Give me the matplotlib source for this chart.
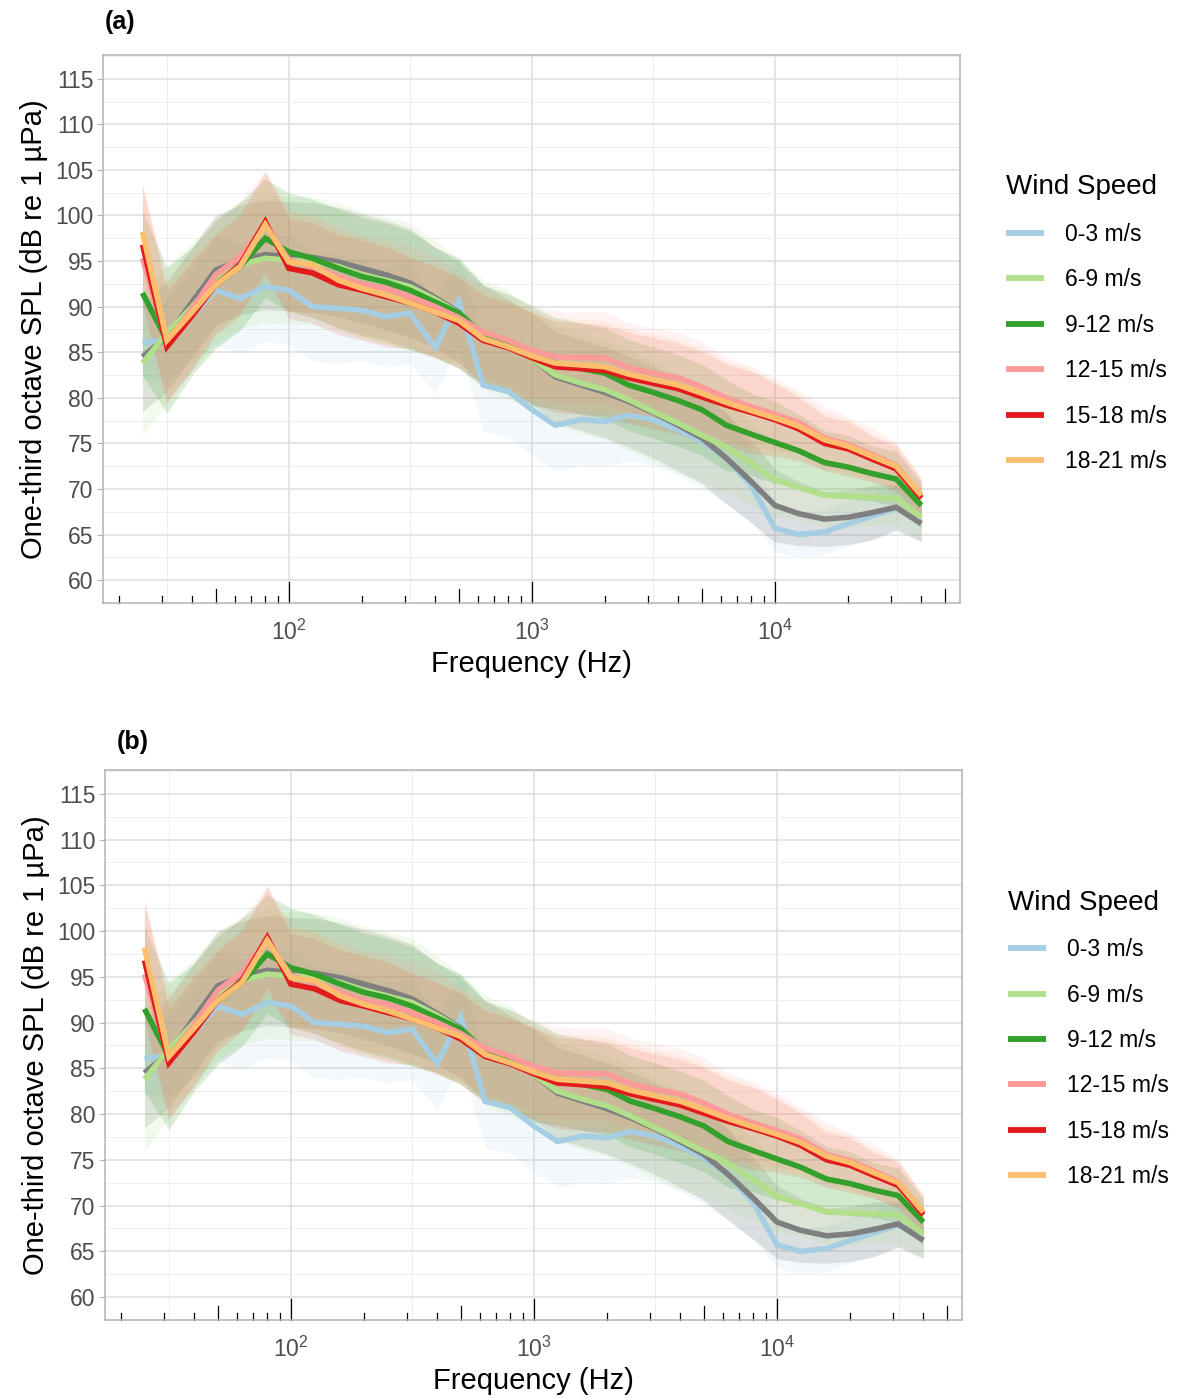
#===============================================================
#  one-third octave SPL spectra by wind speed class
#  two panels (a) and (b), ribbon = spread around the median line
#...............................................................

import numpy as np
import matplotlib
matplotlib.use("Agg")
import matplotlib.pyplot as plt
from matplotlib.transforms import blended_transform_factory
from matplotlib.ticker import FixedLocator, LogFormatterMathtext

plt.rcParams['font.family'] = ['Liberation Sans', 'DejaVu Sans']
plt.rcParams['mathtext.fontset'] = 'custom'
plt.rcParams['mathtext.rm'] = 'Liberation Sans'
plt.rcParams['mathtext.it'] = 'Liberation Sans'

#...............................................................
# data
freq = [25, 31.5, 40, 50, 63, 80, 100, 125, 160, 200, 250, 315, 400, 500,
        630, 800, 1000, 1250, 1600, 2000, 2500, 3150, 4000, 5000, 6300,
        8000, 10000, 12500, 16000, 20000, 25000, 31500, 40000]

spl_0_3 = [86.1, 86.3, 89.0, 91.8, 90.9, 92.2, 91.8, 90.0, 89.8, 89.6, 88.9,
           89.3, 85.5, 90.6, 81.4, 80.7, 78.7, 77.0, 77.6, 77.4, 78.1, 77.6,
           76.5, 75.2, 73.4, 70.3, 65.7, 65.0, 65.3, 66.2, 67.0, 67.9, 66.3]
spl_3_6 = [84.5, 86.7, 90.5, 94.0, 95.1, 95.7, 95.5, 95.4, 94.9, 94.2, 93.5,
           92.6, 91.0, 89.4, 86.9, 85.8, 84.3, 82.3, 81.4, 80.6, 79.6, 78.4,
           77.0, 75.6, 73.4, 70.8, 68.2, 67.3, 66.7, 66.9, 67.4, 68.0, 66.2]
spl_6_9 = [83.8, 87.1, 90.0, 92.9, 94.6, 95.3, 95.1, 95.0, 94.4, 93.5, 92.9,
           92.2, 90.8, 89.3, 87.0, 85.8, 84.3, 82.5, 81.6, 80.9, 79.8, 78.5,
           77.2, 75.9, 74.6, 72.8, 71.0, 70.2, 69.3, 69.2, 69.1, 69.0, 66.9]
spl_9_12 = [91.5, 86.3, 89.5, 92.4, 94.4, 97.5, 96.0, 95.3, 94.2, 93.3, 92.7,
            91.8, 90.5, 89.3, 86.9, 85.9, 84.6, 83.8, 83.2, 82.7, 81.4, 80.6,
            79.7, 78.7, 77.0, 76.0, 75.1, 74.2, 72.9, 72.4, 71.7, 71.1, 68.2]
spl_12_15 = [95.3, 86.1, 89.8, 93.5, 95.5, 99.0, 95.1, 94.4, 93.3, 92.4, 92.0,
             91.1, 90.0, 88.8, 87.2, 86.3, 85.2, 84.5, 84.4, 84.4, 83.3, 82.7,
             82.2, 81.2, 80.0, 79.0, 78.2, 77.3, 75.6, 74.9, 73.8, 72.6, 69.2]
spl_15_18 = [96.8, 85.6, 89.0, 92.4, 94.6, 99.3, 94.2, 93.7, 92.4, 91.8, 91.1,
             90.4, 89.4, 88.2, 86.3, 85.5, 84.4, 83.4, 83.2, 83.0, 82.2, 81.6,
             81.0, 80.1, 79.2, 78.4, 77.6, 76.6, 75.0, 74.4, 73.3, 72.2, 69.0]
spl_18_21 = [98.2, 86.3, 89.4, 92.4, 94.4, 99.0, 94.9, 94.6, 92.9, 92.0, 91.3,
             90.4, 89.4, 88.5, 86.5, 85.6, 84.6, 83.8, 83.6, 83.4, 82.6, 82.0,
             81.4, 80.5, 79.5, 78.6, 77.8, 76.9, 75.4, 74.7, 73.6, 72.5, 69.3]

# half width of the shaded band (dB)
sd_0_3 = [4.0, 4.5, 5.0, 6.0, 6.0, 6.0, 6.0, 6.0, 6.0, 5.5, 5.5, 5.5, 5.0,
          5.0, 5.0, 5.0, 5.0, 5.0, 5.0, 5.0, 5.0, 5.0, 5.0, 5.0, 5.0, 4.0,
          2.5, 2.5, 2.5, 2.5, 2.5, 2.5, 2.0]
sd_3_6 = [6.0, 6.0, 6.0, 6.0, 6.0, 6.0, 6.0, 6.0, 6.0, 6.0, 6.0, 6.0, 5.5,
          5.5, 5.5, 5.0, 5.0, 5.0, 5.0, 5.0, 5.0, 5.0, 5.0, 5.0, 5.0, 4.5,
          4.0, 3.5, 3.0, 3.0, 3.0, 2.5, 2.0]
sd_6_9 = [8.0, 7.5, 7.0, 7.0, 7.0, 7.0, 7.0, 7.0, 7.0, 7.0, 7.0, 7.0, 6.5,
          6.0, 6.0, 6.0, 5.5, 5.5, 5.5, 5.5, 5.5, 5.5, 5.5, 5.0, 5.0, 4.5,
          4.0, 3.5, 3.5, 3.5, 3.0, 3.0, 2.5]
sd_9_12 = [9.0, 8.0, 7.0, 7.0, 7.0, 6.5, 6.5, 6.5, 6.5, 6.5, 6.5, 6.5, 6.0,
           6.0, 5.5, 5.5, 5.5, 5.0, 5.0, 5.0, 5.0, 5.0, 5.0, 5.0, 5.0, 4.5,
           4.5, 4.0, 3.5, 3.5, 3.0, 3.0, 2.5]
sd_12_15 = [7.5, 7.0, 6.5, 6.0, 6.0, 6.0, 5.5, 5.5, 5.5, 5.5, 5.5, 5.5, 5.5,
            5.0, 5.0, 5.0, 5.0, 5.0, 5.0, 5.0, 5.0, 5.0, 5.0, 5.0, 4.5, 4.5,
            4.0, 3.5, 3.5, 3.0, 3.0, 2.5, 2.0]
sd_15_18 = [6.5, 6.0, 6.0, 5.5, 5.5, 5.5, 5.5, 5.5, 5.5, 5.5, 5.5, 5.0, 5.0,
            5.0, 5.0, 5.0, 5.0, 5.0, 5.0, 5.0, 5.0, 5.0, 5.0, 5.0, 4.5, 4.5,
            4.0, 3.5, 3.0, 3.0, 2.5, 2.5, 2.0]
sd_18_21 = [5.5, 6.0, 6.0, 5.5, 5.5, 5.5, 5.5, 5.5, 5.5, 5.5, 5.5, 5.0, 5.0,
            5.0, 5.0, 5.0, 5.0, 5.0, 5.0, 5.0, 5.0, 5.0, 5.0, 5.0, 4.5, 4.5,
            4.0, 3.5, 3.0, 3.0, 2.5, 2.5, 2.0]

labels = ["0-3 m/s", None, "6-9 m/s", "9-12 m/s", "12-15 m/s",
          "15-18 m/s", "18-21 m/s"]
series = [spl_0_3, spl_3_6, spl_6_9, spl_9_12, spl_12_15, spl_15_18, spl_18_21]
spreads = [sd_0_3, sd_3_6, sd_6_9, sd_9_12, sd_12_15, sd_15_18, sd_18_21]
colors = ["#A6CEE3", "#7F7F7F", "#B2DF8A", "#33A02C", "#FB9A99",
          "#E31A1C", "#FDBF6F"]
band_alpha = [0.14, 0.20, 0.15, 0.17, 0.12, 0.11, 0.13]

#...............................................................
# one panel
def draw_panel(ax):
    f = np.array(freq)
    for y, s, c, a in zip(series, spreads, colors, band_alpha):
        y = np.array(y); s = np.array(s)
        ax.fill_between(f, y - s, y + s, color=c, alpha=a, lw=0)
    for y, c, lab in zip(series, colors, labels):
        ax.plot(f, y, color=c, lw=4.0, label=lab if lab else "_nolegend_",
                solid_capstyle="butt", solid_joinstyle="miter")

    ax.set_xscale("log")
    ax.set_xlim(17.2, 57700)
    ax.set_ylim(57.5, 117.6)
    ax.set_yticks(np.arange(60, 116, 5))
    ax.yaxis.set_minor_locator(FixedLocator(np.arange(62.5, 118, 5)))
    ax.xaxis.set_major_locator(FixedLocator([100, 1000, 10000]))
    ax.xaxis.set_major_formatter(LogFormatterMathtext())
    ax.xaxis.set_minor_locator(FixedLocator([10 ** 1.5, 10 ** 2.5,
                                             10 ** 3.5, 10 ** 4.5]))
    ax.xaxis.set_minor_formatter(plt.NullFormatter())

    ax.grid(which="major", color="#DEDEDE", lw=1.1)
    ax.grid(which="minor", color="#EBEBEB", lw=0.6)
    ax.set_axisbelow(True)
    for sp in ax.spines.values():
        sp.set_color("#B3B3B3")
        sp.set_linewidth(1.1)
    ax.tick_params(axis="y", which="major", length=4, color="#B3B3B3",
                   labelsize=16.5, labelcolor="#4D4D4D", pad=3)
    ax.tick_params(axis="x", which="major", length=0, labelsize=16.5,
                   labelcolor="#4D4D4D", pad=12)
    ax.tick_params(which="minor", length=0)

    # log ticks along the bottom, inside the panel
    tr = blended_transform_factory(ax.transData, ax.transAxes)
    for d in [10, 100, 1000, 10000]:
        for k in range(1, 10):
            x = k * d
            if x < 17.2 or x > 57700:
                continue
            h = 0.038 if k == 1 else (0.026 if k == 5 else 0.013)
            ax.plot([x, x], [0, h], color="black", lw=0.9, transform=tr,
                    clip_on=False)

    ax.set_xlabel("Frequency (Hz)", fontsize=21, labelpad=4)
    ax.set_ylabel("One-third octave SPL (dB re 1 µPa)", fontsize=21,
                  labelpad=5)
    ax.legend(loc="upper left", bbox_to_anchor=(1.03, 0.82), frameon=False,
              title="Wind Speed", title_fontsize=20, fontsize=16.5,
              handlelength=1.65, handletextpad=0.9, labelspacing=0.98,
              alignment="left")
    for ln in ax.get_legend().get_lines():
        ln.set_linewidth(4.2)

#...............................................................
# figure
fig = plt.figure(figsize=(11.8, 13.99), dpi=100)
ax_a = fig.add_axes([103 / 1180, 1 - 603 / 1399, 857 / 1180, 548 / 1399])
ax_b = fig.add_axes([105 / 1180, 1 - 1320 / 1399, 857 / 1180, 550 / 1399])
draw_panel(ax_a)
draw_panel(ax_b)

fig.text(105 / 1180, 1 - 22 / 1399, "(a)", fontsize=18, fontweight="bold",
         va="center", ha="left")
fig.text(117 / 1180, 1 - 742 / 1399, "(b)", fontsize=18, fontweight="bold",
         va="center", ha="left")

fig.savefig("out.png", dpi=100)
